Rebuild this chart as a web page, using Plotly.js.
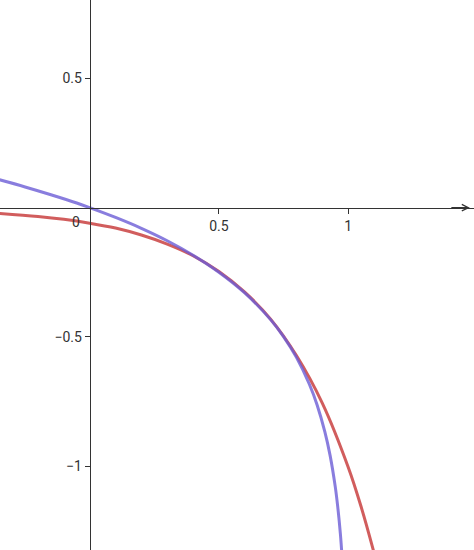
<!DOCTYPE html>
<html>
<head>
<meta charset="utf-8">
<script src="https://cdn.plot.ly/plotly-3.0.1.min.js"></script>
<style>
  html, body { margin: 0; padding: 0; background: #fff; }
  #plot { width: 474px; height: 550px; }
</style>
</head>
<body>
<div id="plot"></div>
<script>
/* global Plotly */
// Valores
const blueX = [-0.35, -0.25, -0.15, -0.05, 0, 0.1, 0.2, 0.3, 0.4, 0.5, 0.6, 0.7, 0.75, 0.8, 0.85, 0.88, 0.91, 0.93, 0.95, 0.96, 0.97, 0.976];
const blueY = [0.108, 0.080, 0.050, 0.018, 0, -0.038, -0.080, -0.128, -0.184, -0.250, -0.330, -0.433, -0.499, -0.579, -0.683, -0.763, -0.867, -0.957, -1.078, -1.159, -1.262, -1.343];

const redX = [-0.35, -0.2, -0.1, 0, 0.1, 0.2, 0.3, 0.4, 0.5, 0.6, 0.7, 0.8, 0.9, 1.0, 1.05, 1.1, 1.12];
const redY = [-0.022, -0.034, -0.045, -0.060, -0.079, -0.106, -0.141, -0.186, -0.247, -0.327, -0.431, -0.572, -0.756, -1.003, -1.156, -1.334, -1.412];

const xTicks = [0.5, 1];
const xTickText = ['0.5', '1'];
const yTicks = [-1, -0.5, 0.5];
const yTickText = ['\u22121', '\u22120.5', '0.5'];

const X_RANGE = [-0.347, 1.487];
const Y_RANGE = [-1.324, 0.803];
const AXIS_COLOR = '#333333';
const FONT = { family: 'Roboto, "DejaVu Sans", sans-serif', size: 14, color: '#333333' };

// posición de los ejes (cruzan en el origen)
const xAxisPos = (0 - Y_RANGE[0]) / (Y_RANGE[1] - Y_RANGE[0]);
const yAxisPos = (0 - X_RANGE[0]) / (X_RANGE[1] - X_RANGE[0]);

const data = [
  {
    type: 'scatter', mode: 'lines', x: redX, y: redY,
    line: { color: 'rgba(198,52,52,0.8)', width: 3, shape: 'spline', smoothing: 1 },
    hoverinfo: 'skip', showlegend: false
  },
  {
    type: 'scatter', mode: 'lines', x: blueX, y: blueY,
    line: { color: 'rgba(108,92,214,0.8)', width: 3, shape: 'spline', smoothing: 1 },
    hoverinfo: 'skip', showlegend: false
  }
];

const layout = {
  width: 474, height: 550,
  margin: { l: 0, r: 0, t: 0, b: 0 },
  paper_bgcolor: '#fff', plot_bgcolor: '#fff',
  font: FONT,
  showlegend: false,
  xaxis: {
    range: X_RANGE, anchor: 'free', position: xAxisPos,
    showgrid: false, zeroline: false,
    showline: true, linecolor: AXIS_COLOR, linewidth: 1.3,
    tickmode: 'array', tickvals: xTicks, ticktext: xTickText,
    ticks: 'outside', ticklen: 5, tickcolor: AXIS_COLOR, tickwidth: 1,
    tickfont: FONT
  },
  yaxis: {
    range: Y_RANGE, anchor: 'free', position: yAxisPos,
    showgrid: false, zeroline: false,
    showline: true, linecolor: AXIS_COLOR, linewidth: 1.3,
    tickmode: 'array', tickvals: yTicks, ticktext: yTickText,
    ticks: 'outside', ticklen: 5, tickcolor: AXIS_COLOR, tickwidth: 1,
    tickfont: FONT
  },
  annotations: [
    // etiqueta del origen
    {
      x: 0, y: 0, xref: 'x', yref: 'y', text: '0', showarrow: false,
      xanchor: 'right', yanchor: 'top', xshift: -8, yshift: -4, font: FONT
    },
    // flecha del eje x
    {
      x: 1.471, y: 0, xref: 'x', yref: 'y', text: '', showarrow: true,
      ax: -20, ay: 0, arrowhead: 5, arrowsize: 1, arrowwidth: 1.3, arrowcolor: AXIS_COLOR
    }
  ]
};

Plotly.newPlot('plot', data, layout, { displayModeBar: false, staticPlot: true });
</script>
</body>
</html>
